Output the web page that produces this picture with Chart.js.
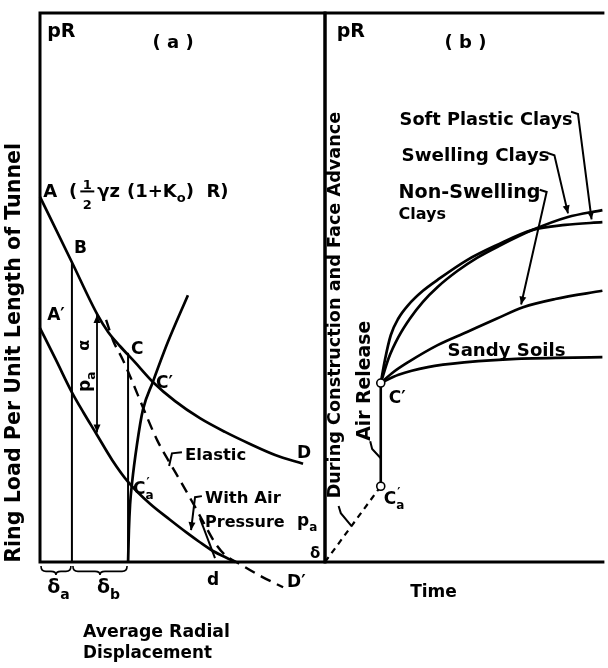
<!DOCTYPE html>
<html><head><meta charset="utf-8">
<script src="https://cdn.jsdelivr.net/npm/chart.js@4.4.1/dist/chart.umd.min.js"></script>
<style>
html,body{margin:0;padding:0;background:#fff;}
#wrap{position:relative;width:608px;height:668px;overflow:hidden;background:#fff}
canvas{position:absolute;left:0;top:0}
</style></head><body>
<div id="wrap"><canvas id="ca" width="608" height="668"></canvas><canvas id="cb" width="608" height="668"></canvas></div>
<script>
// ===== Panel (a): ring load pR vs. average radial displacement (arbitrary units 0-100) =====
const curveAD_x = [0, 11.2, 20.0, 23.9, 28.1, 33.3, 39.6, 47.4, 56.1, 64.9, 73.7, 82.5, 92.3];
const curveAD_y = [66.5, 54.6, 45.2, 41.9, 39.3, 36.4, 32.8, 29.3, 26.2, 23.7, 21.5, 19.5, 17.9];
const curveAd_x = [0, 5.6, 11.2, 15.4, 19.6, 25.3, 30.9, 38.6, 45.6, 51.6, 56.1, 60.7, 64.9, 68.4];
const curveAd_y = [42.6, 36.8, 30.9, 27.1, 23.5, 18.6, 14.6, 10.6, 7.7, 5.3, 3.6, 2.0, 0.9, 0];
const reaction_x = [30.9, 31.2, 31.6, 32.3, 34.0, 36.1, 39.6, 44.9, 51.9];
const reaction_y = [0, 5.8, 10.4, 14.4, 21.3, 27.7, 32.8, 40.1, 48.6];
const elasticAir_x = [23.2, 25.6, 29.1, 32.6, 36.1, 41.1, 45.6, 49.1, 53.7, 57.9, 61.4, 64.9, 70.2, 77.9, 85.3];
const elasticAir_y = [44.1, 40.4, 36.8, 32.6, 28.2, 22.2, 18.0, 14.9, 10.7, 6.7, 3.5, 1.3, -0.4, -2.7, -4.6];
const deltaA_x = [11.2, 11.2], deltaA_y = [0, 54.6];
const deltaB_x = [30.9, 30.9], deltaB_y = [0, 38.1];
const dLine_x = [61.4, 56.1], dLine_y = [0.7, 8.0];
const paArrow_x = [20.0, 20.0], paArrow_y = [45.0, 23.6];
const elasticPtr = [[49.8, 20.0], [46.3, 19.8], [45.3, 17.5]];
const airPtr = [[56.8, 12.0], [54.4, 11.8], [53.0, 5.8]];

// ===== Panel (b): pR vs. time =====
const pointC_t = 20.1, pointC_y = 32.6;     // C'
const pointCa_t = 20.1, pointCa_y = 13.8;   // C'a
const construct_t = [0, pointCa_t], construct_y = [0, pointCa_y];
const airRelease_t = [pointCa_t, pointC_t], airRelease_y = [pointCa_y, pointC_y];
const sandy_t = [20.1, 26.5, 37.1, 51.2, 68.9, 100];
const sandy_y = [32.6, 34.1, 35.5, 36.4, 37.0, 37.3];
const nonSwell_t = [20.1, 24.7, 30.0, 40.6, 51.2, 61.8, 71.4, 83.0, 100];
const nonSwell_y = [32.6, 34.6, 36.4, 39.5, 41.9, 44.3, 46.4, 47.9, 49.4];
const swell_t = [20.1, 23.0, 26.5, 30.7, 35.3, 40.6, 47.7, 54.8, 62.9, 74.9, 87.3, 100];
const swell_y = [32.6, 37.2, 41.0, 44.4, 47.4, 50.1, 53.0, 55.4, 57.6, 60.5, 62.8, 64.1];
const softPl_t = [20.1, 21.6, 23.7, 26.5, 30.0, 35.3, 40.6, 51.2, 61.8, 74.9, 86.6, 100];
const softPl_y = [32.6, 36.8, 41.3, 44.4, 46.8, 49.4, 51.4, 55.0, 57.7, 60.5, 61.4, 61.9];
const softPtr = [[88.7, 82.0], [91.2, 81.6], [96.1, 62.4]];
const swellPtr = [[80.2, 74.5], [82.7, 74.1], [87.6, 63.5]];
const nonSwPtr = [[77.4, 67.8], [79.9, 67.4], [70.7, 46.9]];
const airRelPtr = [[20.1, 18.9], [17.0, 20.6], [16.3, 22.0]];
const constrPtr = [[9.5, 6.6], [5.7, 8.9], [4.9, 10.2]];

const F = '"DejaVu Sans", sans-serif';

function ds(xs, ys, opt) {
  return Object.assign({
    data: xs.map((x, i) => ({x: x, y: ys[i]})),
    borderColor: '#000', borderWidth: 2.7, pointRadius: 0, fill: false,
    tension: 0.4, cubicInterpolationMode: 'monotone', clip: false, order: 1
  }, opt || {});
}
const straight = {tension: 0, cubicInterpolationMode: 'default'};

function txt(ctx, s, px, py, o) {
  o = o || {};
  let size = o.size || 17;
  if (o.w) { ctx.font = 'bold 100px ' + F; size = 100 * o.w / ctx.measureText(s).width; }
  ctx.font = 'bold ' + size + 'px ' + F;
  ctx.fillStyle = '#000';
  if (o.rot) {
    ctx.save(); ctx.translate(px, py); ctx.rotate(-Math.PI / 2);
    ctx.textAlign = 'center'; ctx.textBaseline = 'middle';
    ctx.fillText(s, 0, 0); ctx.restore();
  } else {
    ctx.textAlign = o.align || 'left'; ctx.textBaseline = 'alphabetic';
    ctx.fillText(s, px, py);
  }
  return size;
}
function subTxt(ctx, main, sub, px, py, size, prime) {
  ctx.font = 'bold ' + size + 'px ' + F; ctx.fillStyle = '#000';
  ctx.textAlign = 'left'; ctx.textBaseline = 'alphabetic';
  ctx.fillText(main, px, py);
  const w = ctx.measureText(main).width;
  ctx.font = 'bold ' + Math.round(size * 0.72) + 'px ' + F;
  ctx.fillText(sub, px + w, py + size * 0.32);
  if (prime) { ctx.fillText('′', px + w + 1, py - size * 0.45); }
}
function poly(ctx, pts, arrow) {
  ctx.beginPath(); ctx.moveTo(pts[0][0], pts[0][1]);
  for (let i = 1; i < pts.length; i++) ctx.lineTo(pts[i][0], pts[i][1]);
  ctx.stroke();
  if (arrow) {
    const a = pts[pts.length - 2], b = pts[pts.length - 1];
    head(ctx, a, b);
  }
}
function head(ctx, a, b) {
  const ang = Math.atan2(b[1] - a[1], b[0] - a[0]), L = 8, W = 3.5;
  ctx.beginPath(); ctx.moveTo(b[0], b[1]);
  ctx.lineTo(b[0] - L * Math.cos(ang) + W * Math.sin(ang), b[1] - L * Math.sin(ang) - W * Math.cos(ang));
  ctx.lineTo(b[0] - L * Math.cos(ang) - W * Math.sin(ang), b[1] - L * Math.sin(ang) + W * Math.cos(ang));
  ctx.closePath(); ctx.fill();
}
function brace(ctx, x1, x2, y0) {
  const h = 9, m = (x1 + x2) / 2, r = 5;
  ctx.beginPath();
  ctx.moveTo(x1, y0);
  ctx.quadraticCurveTo(x1, y0 + h * 0.6, x1 + r, y0 + h * 0.6);
  ctx.lineTo(m - r, y0 + h * 0.6);
  ctx.quadraticCurveTo(m, y0 + h * 0.6, m, y0 + h);
  ctx.quadraticCurveTo(m, y0 + h * 0.6, m + r, y0 + h * 0.6);
  ctx.lineTo(x2 - r, y0 + h * 0.6);
  ctx.quadraticCurveTo(x2, y0 + h * 0.6, x2, y0);
  ctx.stroke();
}

const annotA = {
  id: 'annotA',
  afterDatasetsDraw(chart) {
    const ctx = chart.ctx, xs = chart.scales.x, ys = chart.scales.y;
    const X = v => xs.getPixelForValue(v), Y = v => ys.getPixelForValue(v);
    const P = p => [X(p[0]), Y(p[1])];
    ctx.save();
    ctx.strokeStyle = '#000'; ctx.fillStyle = '#000';
    ctx.lineWidth = 3;
    ctx.strokeRect(X(0), Y(100), X(100) - X(0), Y(0) - Y(100));
    head(ctx, [X(paArrow_x[0]), Y(paArrow_y[1])], [X(paArrow_x[0]), Y(paArrow_y[0])]);
    head(ctx, [X(paArrow_x[1]), Y(paArrow_y[0])], [X(paArrow_x[1]), Y(paArrow_y[1])]);
    ctx.lineWidth = 2;
    poly(ctx, elasticPtr.map(P), false);
    poly(ctx, airPtr.map(P), true);
    ctx.lineWidth = 1.6;
    brace(ctx, X(0) + 1, X(deltaA_x[0]) - 1, Y(0) + 4);
    brace(ctx, X(deltaA_x[0]) + 1, X(deltaB_x[0]) - 1, Y(0) + 4);
    txt(ctx, 'pR', X(2.5), Y(95.6), {size: 19});
    txt(ctx, '( a )', X(46.7), Y(93.6), {size: 18, align: 'center'});
    (function () {
      let x = X(1.1); const y0 = Y(66.5);
      const big = 'bold 18px ' + F, small = 'bold 13px ' + F;
      ctx.textAlign = 'left'; ctx.textBaseline = 'alphabetic';
      ctx.font = big; ctx.fillText('A', x, y0); x += ctx.measureText('A').width + 12;
      ctx.fillText('(', x, y0); x += ctx.measureText('(').width + 5;
      ctx.font = small; const fw = 10;
      ctx.textAlign = 'center';
      ctx.fillText('1', x + fw / 2, y0 - 8); ctx.fillText('2', x + fw / 2, y0 + 12);
      ctx.fillRect(x - 2, y0 - 6.5, fw + 4, 2);
      ctx.textAlign = 'left'; x += fw + 5;
      ctx.font = big; ctx.fillText('γz', x, y0); x += ctx.measureText('γz').width + 7;
      ctx.fillText('(1+K', x, y0); x += ctx.measureText('(1+K').width;
      ctx.font = small; ctx.fillText('o', x, y0 + 5); x += ctx.measureText('o').width;
      ctx.font = big; ctx.fillText(')  R)', x, y0);
    })();
    txt(ctx, 'B', X(11.9), Y(56.3), {size: 17});
    txt(ctx, 'A′', X(2.5), Y(44.1), {size: 17});
    txt(ctx, 'C', X(31.9), Y(37.9), {size: 17});
    txt(ctx, 'C′', X(40.7), Y(31.7), {size: 17});
    subTxt(ctx, 'C', 'a', X(32.6), Y(12.4), 17, true);
    txt(ctx, 'D', X(90.2), Y(18.9), {size: 17});
    txt(ctx, 'Elastic', X(50.9), Y(18.6), {size: 16.5});
    txt(ctx, 'With Air', X(57.9), Y(10.7), {size: 16.5});
    txt(ctx, 'Pressure', X(57.9), Y(6.4), {size: 16});
    subTxt(ctx, 'p', 'a', X(90.2), Y(6.6), 17, false);
    txt(ctx, 'δ', X(94.7), Y(0.7), {size: 15});
    txt(ctx, 'd', X(58.6), Y(-4.2), {size: 17});
    txt(ctx, 'D′', X(86.7), Y(-4.6), {size: 17});
    subTxt(ctx, 'δ', 'a', X(2.5), Y(-5.7), 19, false);
    subTxt(ctx, 'δ', 'b', X(20.0), Y(-5.7), 19, false);
    txt(ctx, 'Average Radial', X(15.1), Y(-13.7), {w: 147});
    txt(ctx, 'Displacement', X(15.1), Y(-17.5), {w: 129});
    txt(ctx, 'Ring Load Per Unit Length of Tunnel', X(-8.8), Y(38.1), {w: 420, rot: true});
    txt(ctx, 'α', X(15.8), Y(39.5), {size: 16, rot: true});
    ctx.save(); ctx.translate(X(15.8), Y(32.6)); ctx.rotate(-Math.PI / 2);
    subTxt(ctx, 'p', 'a', -9, 5, 17, false); ctx.restore();
    ctx.restore();
  }
};

const annotB = {
  id: 'annotB',
  afterDatasetsDraw(chart) {
    const ctx = chart.ctx, xs = chart.scales.x, ys = chart.scales.y;
    const X = v => xs.getPixelForValue(v), Y = v => ys.getPixelForValue(v);
    const P = p => [X(p[0]), Y(p[1])];
    ctx.save();
    ctx.strokeStyle = '#000'; ctx.fillStyle = '#000';
    ctx.lineWidth = 3;
    ctx.beginPath();
    ctx.moveTo(X(100) + 2, Y(100)); ctx.lineTo(X(0), Y(100)); ctx.lineTo(X(0), Y(0)); ctx.lineTo(X(100) + 2, Y(0));
    ctx.stroke();
    ctx.lineWidth = 2;
    poly(ctx, softPtr.map(P), true);
    poly(ctx, swellPtr.map(P), true);
    poly(ctx, nonSwPtr.map(P), true);
    poly(ctx, airRelPtr.map(P), false);
    poly(ctx, constrPtr.map(P), false);
    txt(ctx, 'pR', X(4.2), Y(95.6), {size: 19});
    txt(ctx, '( b )', X(43.1), Y(93.6), {size: 18});
    txt(ctx, 'Soft Plastic Clays', X(26.9), Y(79.6), {w: 173});
    txt(ctx, 'Swelling Clays', X(27.6), Y(73.0), {w: 148});
    txt(ctx, 'Non-Swelling', X(26.5), Y(66.3), {w: 142});
    txt(ctx, 'Clays', X(26.5), Y(62.5), {size: 16});
    txt(ctx, 'Sandy Soils', X(44.2), Y(37.5), {w: 118});
    txt(ctx, 'C′', X(23.0), Y(29.0), {size: 17});
    subTxt(ctx, 'C', 'a', X(21.2), Y(10.6), 17, true);
    txt(ctx, 'Time', X(30.7), Y(-6.4), {size: 17});
    txt(ctx, 'Air Release', X(14.5), Y(33.0), {w: 120, rot: true});
    txt(ctx, 'During Construction and Face Advance', X(3.9), Y(46.8), {w: 387, rot: true});
    ctx.restore();
  }
};

const common = {
  responsive: false, animation: false, devicePixelRatio: 1, events: [],
  plugins: {legend: {display: false}, tooltip: {enabled: false}, title: {display: false}},
  scales: {x: {type: 'linear', min: 0, max: 100, display: false}, y: {type: 'linear', min: 0, max: 100, display: false}}
};

new Chart(document.getElementById('ca'), {
  type: 'line',
  data: {datasets: [
    ds(curveAD_x, curveAD_y),
    ds(curveAd_x, curveAd_y),
    ds(reaction_x, reaction_y),
    ds(elasticAir_x, elasticAir_y, {borderDash: [11, 7], borderWidth: 2.4}),
    ds(deltaA_x, deltaA_y, Object.assign({borderWidth: 2}, straight)),
    ds(deltaB_x, deltaB_y, Object.assign({borderWidth: 2}, straight)),
    ds(dLine_x, dLine_y, Object.assign({borderWidth: 2}, straight)),
    ds(paArrow_x, paArrow_y, Object.assign({borderWidth: 1.8}, straight))
  ]},
  options: Object.assign({}, common, {layout: {padding: {left: 40, top: 13, right: 283, bottom: 106}}}),
  plugins: [annotA]
});

new Chart(document.getElementById('cb'), {
  type: 'line',
  data: {datasets: [
    {data: [{x: pointC_t, y: pointC_y}, {x: pointCa_t, y: pointCa_y}], showLine: false,
     pointRadius: 4, pointBackgroundColor: '#fff', pointBorderColor: '#000', pointBorderWidth: 1.6, order: 0, clip: false},
    ds(sandy_t, sandy_y),
    ds(nonSwell_t, nonSwell_y),
    ds(swell_t, swell_y),
    ds(softPl_t, softPl_y),
    ds(airRelease_t, airRelease_y, Object.assign({borderWidth: 2.6}, straight)),
    ds(construct_t, construct_y, Object.assign({borderDash: [6, 5], borderWidth: 2.2}, straight))
  ]},
  options: Object.assign({}, common, {layout: {padding: {left: 325, top: 13, right: 0, bottom: 106}}}),
  plugins: [annotB]
});
</script>
</body></html>
